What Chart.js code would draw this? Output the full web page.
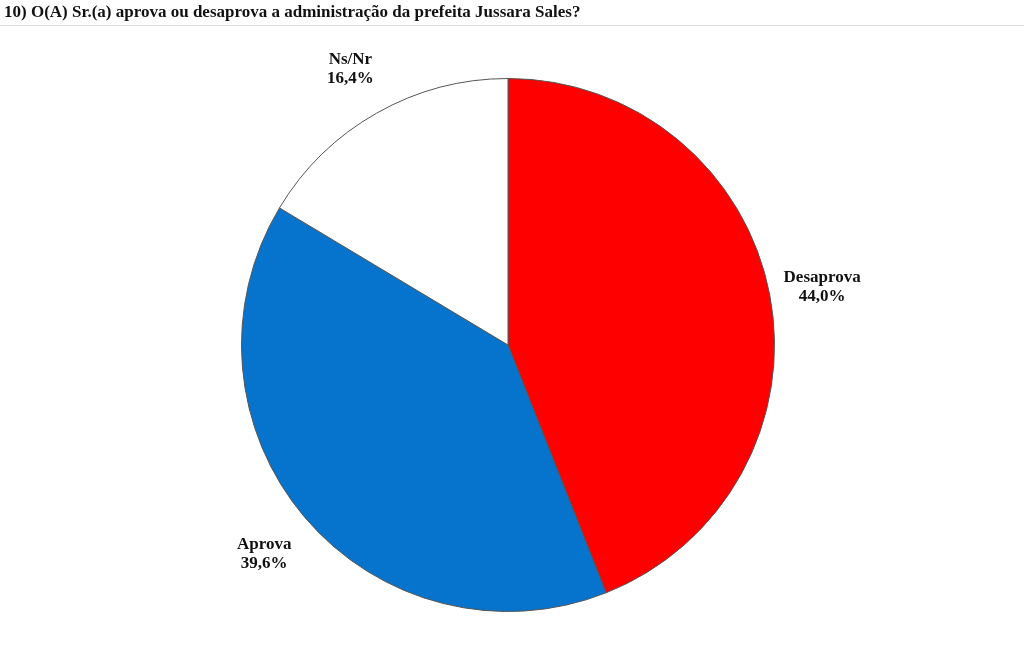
<!DOCTYPE html>
<html>
<head>
<meta charset="utf-8">
<script src="https://cdn.jsdelivr.net/npm/chart.js@4"></script>
<style>
  body { margin: 0; background: #fff; }
  #title { position: absolute; left: 4px; top: 2px; font: bold 17px "Liberation Serif", serif; color: #111; }
  #rule { position: absolute; left: 0; top: 25px; width: 1024px; height: 1px; background: #ddd; }
  #wrap { position: absolute; left: 0; top: 0; width: 1024px; height: 662px; }
</style>
</head>
<body>
<div id="wrap"><canvas id="pie"></canvas></div>
<div id="title">10) O(A) Sr.(a) aprova ou desaprova a administração da prefeita Jussara Sales?</div>
<div id="rule"></div>
<script>
const labels = ['Desaprova', 'Aprova', 'Ns/Nr'];
const values = [44.0, 39.6, 16.4];
const colors = ['#ff0000', '#0673cc', '#ffffff'];

// labels outside each slice
const outsideLabels = {
  id: 'outsideLabels',
  afterDatasetsDraw(chart) {
    const ctx = chart.ctx;
    ctx.save();
    ctx.font = 'bold 17px "Liberation Serif", serif';
    ctx.fillStyle = '#111';
    ctx.textAlign = 'center';
    chart.getDatasetMeta(0).data.forEach((arc, i) => {
      const mid = (arc.startAngle + arc.endAngle) / 2;
      const r = arc.outerRadius * 1.2;
      const x = arc.x + Math.cos(mid) * r;
      const y = arc.y + Math.sin(mid) * r;
      ctx.fillText(labels[i], x, y - 3);
      ctx.fillText(values[i].toFixed(1).replace('.', ',') + '%', x, y + 16);
    });
    ctx.restore();
  }
};

new Chart(document.getElementById('pie'), {
  type: 'pie',
  data: {
    labels: labels,
    datasets: [{
      data: values,
      backgroundColor: colors,
      borderColor: '#555',
      borderWidth: 1
    }]
  },
  options: {
    responsive: true,
    maintainAspectRatio: false,
    animation: false,
    layout: { padding: { top: 78, bottom: 50, left: 241, right: 249 } },
    plugins: { legend: { display: false }, tooltip: { enabled: false } }
  },
  plugins: [outsideLabels]
});
</script>
</body>
</html>
